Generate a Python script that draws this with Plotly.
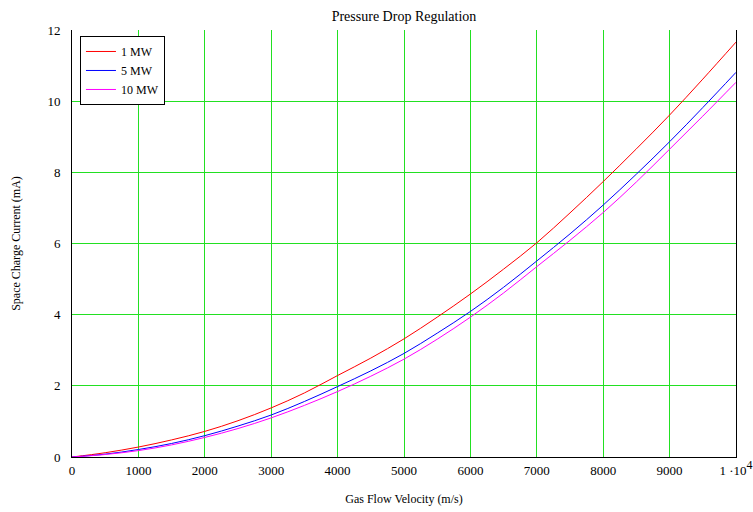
import plotly.graph_objects as go

velocity = [0, 500, 1000, 1500, 2000, 2500, 3000, 3500, 4000, 4500, 5000, 5500, 6000, 6500, 7000, 7500, 8000, 8500, 9000, 9500, 10000]
current_1mw = [0, 0.12, 0.28, 0.48, 0.72, 1.02, 1.38, 1.8, 2.29, 2.78, 3.32, 3.93, 4.58, 5.28, 6.02, 6.86, 7.74, 8.66, 9.61, 10.62, 11.66]
current_5mw = [0, 0.08, 0.21, 0.38, 0.6, 0.87, 1.18, 1.56, 1.98, 2.42, 2.91, 3.48, 4.09, 4.77, 5.51, 6.27, 7.08, 7.95, 8.86, 9.82, 10.81]
current_10mw = [0, 0.07, 0.18, 0.34, 0.55, 0.8, 1.1, 1.45, 1.84, 2.27, 2.75, 3.31, 3.93, 4.61, 5.35, 6.09, 6.87, 7.73, 8.65, 9.58, 10.53]

x_tickvals = [0, 1000, 2000, 3000, 4000, 5000, 6000, 7000, 8000, 9000, 10000]
x_ticktext = ["0", "1000", "2000", "3000", "4000", "5000", "6000", "7000", "8000", "9000",
              "1 ·10<sup><span style='font-size:12px'>4</span></sup>"]
y_tickvals = [0, 2, 4, 6, 8, 10, 12]

font_family = "Liberation Serif, Times New Roman, serif"

fig = go.Figure()
fig.add_trace(go.Scatter(x=velocity, y=current_1mw, mode="lines", name="1 MW",
                         line=dict(color="#ff0000", width=1, shape="spline")))
fig.add_trace(go.Scatter(x=velocity, y=current_5mw, mode="lines", name="5 MW",
                         line=dict(color="#0000ff", width=1, shape="spline")))
fig.add_trace(go.Scatter(x=velocity, y=current_10mw, mode="lines", name="10 MW",
                         line=dict(color="#ff00ff", width=1, shape="spline")))

fig.update_layout(
    width=753, height=512,
    margin=dict(l=72, r=17, t=30, b=55, autoexpand=False),
    paper_bgcolor="white", plot_bgcolor="white",
    font=dict(family=font_family, size=13, color="black"),
    title=dict(text="Pressure Drop Regulation", x=404 / 753, xanchor="center",
               y=1 - 16 / 512, yanchor="middle", font=dict(family=font_family, size=14)),
    legend=dict(x=0.012, y=0.986, xanchor="left", yanchor="top",
                bordercolor="black", borderwidth=1, bgcolor="white",
                font=dict(family=font_family, size=12),
                itemwidth=30, tracegroupgap=0),
    xaxis=dict(range=[0, 10000], tickvals=x_tickvals, ticktext=x_ticktext,
               showgrid=True, gridcolor="#22e022", gridwidth=1,
               showline=True, linecolor="black", linewidth=1, mirror=False,
               zeroline=False, ticks="", ticklabelstandoff=1, automargin=False,
               tickfont=dict(family=font_family, size=13),
               title=dict(text="Gas Flow Velocity (m/s)", standoff=18,
                          font=dict(family=font_family, size=12))),
    yaxis=dict(range=[0, 12], tickvals=y_tickvals,
               showgrid=True, gridcolor="#22e022", gridwidth=1,
               showline=True, linecolor="black", linewidth=1, mirror=True,
               zeroline=False, ticks="", ticklabelstandoff=8, automargin=False,
               tickfont=dict(family=font_family, size=13),
               title=dict(text="Space Charge Current (mA)", standoff=24,
                          font=dict(family=font_family, size=12))),
)

fig.write_html("out.html")
